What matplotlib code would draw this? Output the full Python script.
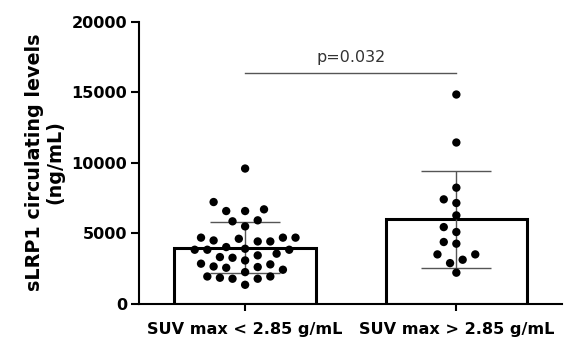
import numpy as np
import matplotlib
matplotlib.use("Agg")
import matplotlib.pyplot as plt

# the original labels are a wide-set Arial; DejaVu Sans has about the same proportions
plt.rcParams['font.family'] = ['DejaVu Sans']

# data (ng/mL)
groups = ["SUV max < 2.85 g/mL", "SUV max > 2.85 g/mL"]
low_suv = [9590, 7210, 6570, 6570, 6690, 5910, 5840, 5480,
           4680, 4600, 4410, 4410, 4480, 4680, 4680,
           3890, 3820, 3820, 3820, 4010,
           3250, 3540, 3300, 3420, 3060, 2830,
           2630, 2540, 2400, 2590, 2780, 2230,
           1920, 1830, 1760, 1760, 1920, 1330]
high_suv = [14850, 11440, 8230, 7140, 7400, 6260, 5430, 5080,
            4370, 4250, 3490, 3490, 3110, 2870, 2190]
p_text = "p=0.032"
p_y = 16400
yticks = [0, 5000, 10000, 15000, 20000]


def swarm_offsets(values, px_per_y, step_px=6.3, min_dist=11.0):
    # simple greedy beeswarm in pixel space, returns x offsets in pixels
    order = np.argsort(values)
    placed = []
    offs = np.zeros(len(values))
    for i in order:
        y = values[i] * px_per_y
        k = 0
        while True:
            cands = [0.0] if k == 0 else [-k * step_px, k * step_px]
            ok = None
            for c in cands:
                if all((c - px) ** 2 + (y - py) ** 2 >= min_dist ** 2 for px, py in placed):
                    ok = c
                    break
            if ok is not None:
                placed.append((ok, y))
                offs[i] = ok
                break
            k += 1
    return offs


fig = plt.figure(figsize=(5.71, 3.39), dpi=100)
ax = fig.add_axes([0.2443, 0.1047, 0.9842 - 0.2443, 0.935 - 0.1047])

ax.set_xlim(-0.5, 1.5)
ax.set_ylim(0, 20000)

bbox = ax.get_window_extent()
px_per_x = bbox.width / 2.0
px_per_y = bbox.height / 20000.0

for i, vals in enumerate([low_suv, high_suv]):
    vals = np.array(vals, dtype=float)
    m = vals.mean()
    sd = vals.std(ddof=1)
    ax.bar(i, m, width=0.67, facecolor='white', edgecolor='black', linewidth=2.2, zorder=1)
    ax.errorbar(i, m, yerr=sd, fmt='none', ecolor='#555555', elinewidth=1.0,
                capsize=25, capthick=1.0, zorder=2)
    offs = swarm_offsets(vals, px_per_y) / px_per_x
    ax.scatter(i + offs, vals, s=36, color='black', edgecolors='none', zorder=3)

# significance line
ax.plot([0, 1], [p_y, p_y], color='#555555', linewidth=1.0)
ax.text(0.5, p_y + 780, p_text, ha='center', va='baseline', fontsize=11.5, color='#333333')

ax.set_yticks(yticks)
ax.set_yticklabels([str(t) for t in yticks], fontweight='bold', fontsize=11.6)
ax.set_xticks([0, 1])
ax.set_xticklabels(groups, fontweight='bold', fontsize=11.6)
ax.tick_params(axis='y', direction='out', length=6, width=1.5, pad=3)
ax.tick_params(axis='x', direction='out', length=5, width=1.5, pad=8)
ax.spines['top'].set_visible(False)
ax.spines['right'].set_visible(False)
ax.spines['left'].set_linewidth(1.5)
ax.spines['bottom'].set_linewidth(1.5)

fig.text(44.5 / 571, 1 - 162 / 339, "sLRP1 circulating levels\n(ng/mL)", rotation=90,
         ha='center', va='center', multialignment='center',
         fontweight='bold', fontsize=13.8, linespacing=1.1)

fig.savefig("out.png", dpi=100)
